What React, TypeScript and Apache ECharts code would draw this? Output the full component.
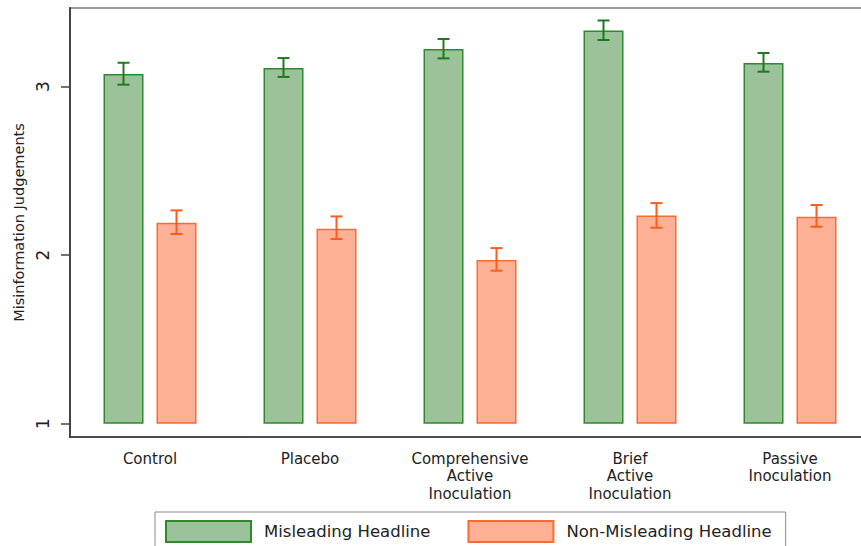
import React, { useEffect, useRef } from "react";
import * as echarts from "echarts";

const categories = [
  "Control",
  "Placebo",
  "Comprehensive\nActive\nInoculation",
  "Brief\nActive\nInoculation",
  "Passive\nInoculation",
];
const misleading = [3.075, 3.111, 3.224, 3.334, 3.141];
const misleadingLow = [3.012, 3.058, 3.168, 3.277, 3.089];
const misleadingHigh = [3.142, 3.17, 3.283, 3.393, 3.2];
const nonMisleading = [2.193, 2.157, 1.971, 2.236, 2.228];
const nonMisleadingLow = [2.126, 2.096, 1.908, 2.163, 2.169];
const nonMisleadingHigh = [2.266, 2.23, 2.042, 2.309, 2.298];
const yTicks = [1, 2, 3];
const baseValue = 1;

const FONT = "DejaVu Sans";
const BAR_W = 40;
const GAP = 13;
const OFFSET = (BAR_W + GAP) / 2;

function errorBar(offset: number, color: string) {
  return (params: any, api: any) => {
    const i = api.value(0);
    const lo = api.coord([i, api.value(1)]);
    const hi = api.coord([i, api.value(2)]);
    const x = lo[0] + offset;
    const cap = 6;
    const style = { stroke: color, lineWidth: 2 };
    return {
      type: "group",
      children: [
        { type: "line", shape: { x1: x, y1: lo[1], x2: x, y2: hi[1] }, style },
        { type: "line", shape: { x1: x - cap, y1: lo[1], x2: x + cap, y2: lo[1] }, style },
        { type: "line", shape: { x1: x - cap, y1: hi[1], x2: x + cap, y2: hi[1] }, style },
      ],
    };
  };
}

export default function App() {
  const ref = useRef<HTMLDivElement>(null);
  useEffect(() => {
    if (!ref.current) return;
    const chart = echarts.init(ref.current, undefined, { renderer: "svg" });
    const base = categories.map(() => baseValue);
    chart.setOption({
      animation: false,
      backgroundColor: "#ffffff",
      grid: {
        left: 70,
        top: 8,
        width: 800,
        bottom: 109,
        outerBoundsMode: "none",
        containLabel: false,
        show: true,
        borderColor: "#9a9a9a",
        borderWidth: 2,
        backgroundColor: "transparent",
      },
      legend: {
        data: ["Misleading Headline", "Non-Misleading Headline"],
        left: 155,
        top: 512,
        itemWidth: 85,
        itemHeight: 21,
        itemGap: 37,
        padding: [8, 14, 14, 10],
        borderColor: "#8a8a8a",
        borderWidth: 1,
        borderRadius: 0,
        icon: "rect",
        textStyle: {
          fontFamily: FONT,
          fontSize: 16.5,
          color: "#222",
          padding: [0, 0, 0, 8],
        },
      },
      xAxis: {
        type: "category",
        data: categories,
        axisLine: { lineStyle: { color: "#333", width: 1.5 } },
        axisTick: { alignWithLabel: true, length: 6, lineStyle: { color: "#666", width: 1.5 } },
        axisLabel: {
          interval: 0,
          margin: 13,
          fontFamily: FONT,
          fontSize: 15,
          lineHeight: 17.5,
          color: "#222",
          align: "center",
        },
        splitLine: { show: false },
      },
      yAxis: {
        type: "value",
        min: 0.921,
        max: 3.467,
        name: "Misinformation Judgements",
        nameLocation: "middle",
        nameRotate: 90,
        nameGap: 38,
        nameTextStyle: { fontFamily: FONT, fontSize: 14.5, color: "#222" },
        axisLine: { show: true, lineStyle: { color: "#444", width: 2 } },
        axisTick: { show: true, length: 9, customValues: yTicks, lineStyle: { color: "#444", width: 1.5 } },
        axisLabel: {
          customValues: yTicks,
          rotate: 90,
          margin: 19,
          fontFamily: FONT,
          fontSize: 17,
          color: "#222",
        },
        splitLine: { show: false },
      },
      series: [
        {
          name: "baseA",
          type: "bar",
          stack: "a",
          data: base,
          barWidth: BAR_W,
          barGap: (GAP / BAR_W) * 100 + "%",
          silent: true,
          itemStyle: { color: "transparent" },
        },
        {
          name: "Misleading Headline",
          type: "bar",
          stack: "a",
          data: misleading.map((v) => +(v - baseValue).toFixed(4)),
          barWidth: BAR_W,
          itemStyle: { color: "#9bc29a", borderColor: "#2f8a2f", borderWidth: 1.5 },
        },
        {
          name: "baseB",
          type: "bar",
          stack: "b",
          data: base,
          barWidth: BAR_W,
          silent: true,
          itemStyle: { color: "transparent" },
        },
        {
          name: "Non-Misleading Headline",
          type: "bar",
          stack: "b",
          data: nonMisleading.map((v) => +(v - baseValue).toFixed(4)),
          barWidth: BAR_W,
          itemStyle: { color: "#ffb196", borderColor: "#ff6a33", borderWidth: 1.5 },
        },
        {
          name: "errA",
          type: "custom",
          renderItem: errorBar(-OFFSET, "#1f7a1f"),
          encode: { x: 0, y: [1, 2] },
          data: categories.map((_, i) => [i, misleadingLow[i], misleadingHigh[i]]),
          z: 10,
        },
        {
          name: "errB",
          type: "custom",
          renderItem: errorBar(OFFSET, "#ff5a1f"),
          encode: { x: 0, y: [1, 2] },
          data: categories.map((_, i) => [i, nonMisleadingLow[i], nonMisleadingHigh[i]]),
          z: 10,
        },
      ],
    });
    return () => chart.dispose();
  }, []);
  return (
    <div
      ref={ref}
      style={{ position: "fixed", left: 0, top: 0, width: 861, height: 546, background: "#fff" }}
    />
  );
}
